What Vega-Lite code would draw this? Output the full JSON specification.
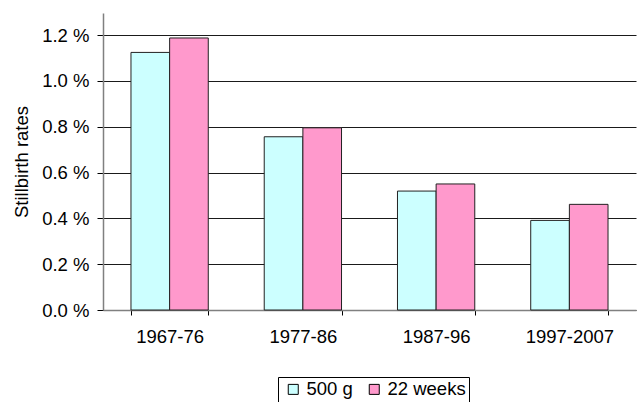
{
  "$schema": "https://vega.github.io/schema/vega-lite/v6.json",
  "width": 533,
  "height": 297,
  "autosize": {"type": "none"},
  "padding": {"left": 103, "top": 13, "right": 1, "bottom": 92},
  "background": "white",
  "config": {
    "view": {"stroke": null},
    "font": "Liberation Sans"
  },
  "data": {
    "values": [
      {"period": "1967-76", "series": "500 g", "rate": 1.124},
      {"period": "1967-76", "series": "22 weeks", "rate": 1.187},
      {"period": "1977-86", "series": "500 g", "rate": 0.756},
      {"period": "1977-86", "series": "22 weeks", "rate": 0.795},
      {"period": "1987-96", "series": "500 g", "rate": 0.519},
      {"period": "1987-96", "series": "22 weeks", "rate": 0.550},
      {"period": "1997-2007", "series": "500 g", "rate": 0.391},
      {"period": "1997-2007", "series": "22 weeks", "rate": 0.461}
    ]
  },
  "mark": {"type": "bar", "stroke": "#222222", "strokeWidth": 1},
  "encoding": {
    "x": {
      "field": "period",
      "type": "nominal",
      "sort": null,
      "scale": {"paddingInner": 0.42, "paddingOuter": 0.21},
      "axis": {
        "title": null,
        "labelAngle": 0,
        "labelFontSize": 18.5,
        "labelColor": "#000000",
        "labelPadding": 12,
        "tickBand": "extent",
        "tickSize": 5,
        "tickColor": "#000000",
        "domainColor": "#808080",
        "domainWidth": 1.5
      }
    },
    "xOffset": {
      "field": "series",
      "type": "nominal",
      "sort": ["500 g", "22 weeks"],
      "scale": {"paddingInner": 0, "paddingOuter": 0}
    },
    "y": {
      "field": "rate",
      "type": "quantitative",
      "scale": {"domain": [0, 1.296], "nice": false},
      "axis": {
        "title": "Stillbirth rates",
        "titleFontSize": 18.5,
        "titleFontWeight": "normal",
        "titleColor": "#000000",
        "titlePadding": 10,
        "values": [0, 0.2, 0.4, 0.6, 0.8, 1.0, 1.2],
        "labelExpr": "format(datum.value, '.1f') + ' %'",
        "labelFontSize": 18.5,
        "labelColor": "#000000",
        "labelPadding": 8,
        "tickSize": 6,
        "tickColor": "#000000",
        "domainColor": "#808080",
        "domainWidth": 1.5,
        "grid": true,
        "gridColor": "#1a1a1a",
        "gridWidth": 1
      }
    },
    "color": {
      "field": "series",
      "type": "nominal",
      "sort": ["500 g", "22 weeks"],
      "scale": {"domain": ["500 g", "22 weeks"], "range": ["#CCFFFF", "#FF99CC"]},
      "legend": {
        "title": null,
        "orient": "none",
        "direction": "horizontal",
        "legendX": 175,
        "legendY": 364,
        "symbolType": "square",
        "symbolSize": 100,
        "symbolStrokeColor": "#000000",
        "symbolStrokeWidth": 1,
        "symbolOpacity": 1,
        "symbolOffset": 3,
        "labelFontSize": 18.5,
        "labelColor": "#000000",
        "labelOffset": 4,
        "columnPadding": 9,
        "strokeColor": "#000000",
        "fillColor": "white",
        "padding": 3
      }
    }
  }
}
